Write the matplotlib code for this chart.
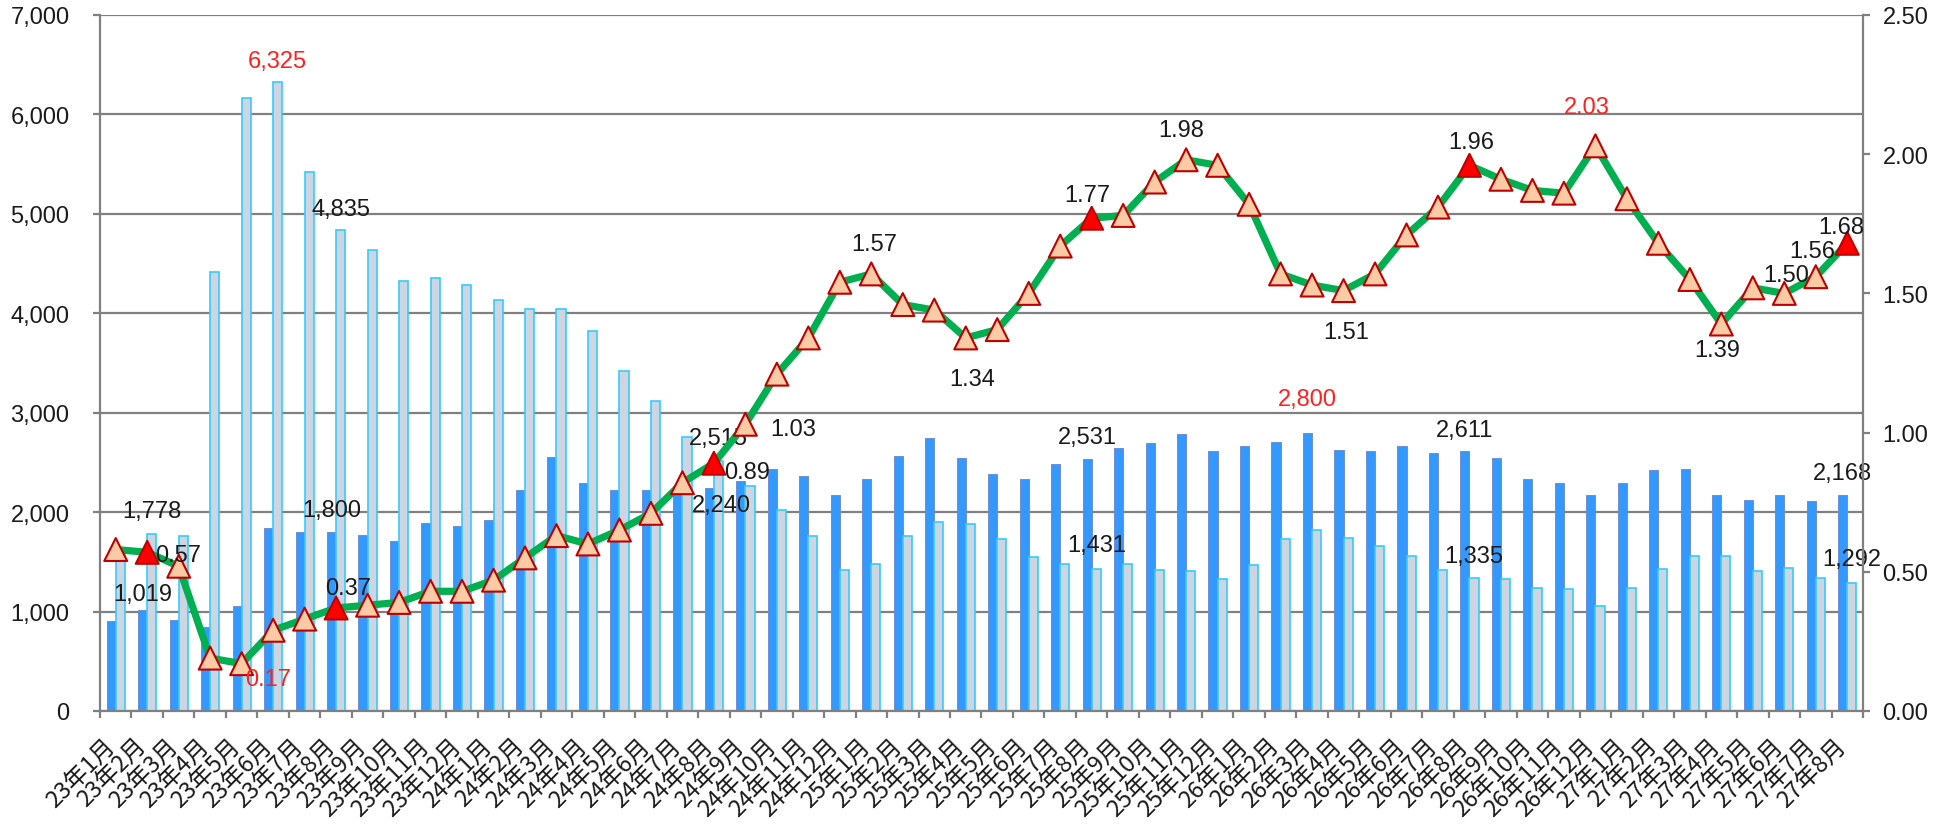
import matplotlib

matplotlib.use("Agg")
import matplotlib.pyplot as plt
import matplotlib.transforms as mtransforms
import numpy as np
from matplotlib.ticker import FuncFormatter

# monthly labels 23年1月 .. 27年8月
months = [f"{y}年{m}月" for y in range(23, 28) for m in range(1, 13)][:56]

# dark blue bars
dark = [
    910, 1019, 920, 840, 1060, 1840, 1800, 1800, 1770, 1710, 1890, 1860,
    1920, 2220, 2550, 2290, 2220, 2220, 2260, 2240, 2310, 2430, 2360, 2170,
    2330, 2560, 2750, 2540, 2380, 2330, 2480, 2531, 2650, 2700, 2790, 2610,
    2670, 2710, 2800, 2620, 2610, 2670, 2590, 2611, 2540, 2330, 2290, 2170,
    2290, 2420, 2430, 2170, 2120, 2170, 2110, 2168,
]
# light (grey-blue) bars
light = [
    1570, 1778, 1760, 4420, 6170, 6325, 5420, 4835, 4640, 4320, 4350, 4280,
    4130, 4040, 4040, 3820, 3420, 3120, 2760, 2515, 2260, 2020, 1760, 1420,
    1480, 1760, 1900, 1880, 1730, 1550, 1480, 1431, 1480, 1420, 1410, 1330,
    1470, 1730, 1820, 1740, 1660, 1560, 1420, 1335, 1330, 1240, 1230, 1060,
    1240, 1430, 1560, 1560, 1410, 1440, 1340, 1292,
]
# ratio line (right axis)
ratio = [
    0.58, 0.57, 0.52, 0.19, 0.17, 0.29, 0.33, 0.37, 0.38, 0.39, 0.43, 0.43,
    0.47, 0.55, 0.63, 0.60, 0.65, 0.71, 0.82, 0.89, 1.03, 1.21, 1.34, 1.54,
    1.57, 1.46, 1.44, 1.34, 1.37, 1.50, 1.67, 1.77, 1.78, 1.90, 1.98, 1.96,
    1.82, 1.57, 1.53, 1.51, 1.57, 1.71, 1.81, 1.96, 1.91, 1.87, 1.86, 2.03,
    1.84, 1.68, 1.55, 1.39, 1.52, 1.50, 1.56, 1.68,
]
highlight = [1, 7, 19, 31, 43, 55]  # filled red markers

# label placement: index -> (dx px, dy px, colour) relative to the mark top / point
dark_labels = {1: (0, -18, "k"), 7: (0, -25, "k"), 19: (12, 14, "k"), 31: (0, -25, "k"),
               38: (0, -36, "red"), 43: (0, -24, "k"), 55: (0, -25, "k")}
light_labels = {1: (0, -26, "k"), 5: (0, -24, "red"), 7: (0, -24, "k"), 19: (0, -25, "k"),
                31: (0, -26, "k"), 43: (0, -25, "k"), 55: (0, -26, "k")}
ratio_labels = {1: (31, 0, "k"), 4: (26, 13, "red"), 7: (12, -22, "k"), 19: (33, 6, "k"),
                20: (48, 2, "k"), 24: (3, -32, "k"), 27: (6, 39, "k"), 31: (-4, -26, "k"),
                34: (-5, -32, "k"), 39: (3, 39, "k"), 43: (2, -26, "k"), 47: (-9, -41, "red"),
                51: (-4, 23, "k"), 53: (2, -21, "k"), 54: (-4, -28, "k"), 55: (-6, -19, "k")}

GRID = "#808080"
TXT = "#1a1a1a"
plt.rcParams["font.family"] = ["Liberation Sans", "Noto Sans CJK JP", "DejaVu Sans"]

W, H = 1948, 829
fig = plt.figure(figsize=(W / 100, H / 100), dpi=100)
ax = fig.add_axes([100 / W, 1 - 712 / H, (1863 - 100) / W, (712 - 16) / H])
ax2 = ax.twinx()

x = np.arange(len(months))
bw = 0.29
ax.bar(x - bw / 2, dark, bw, color="#3399FF", edgecolor="#6E8FD6", linewidth=0.7, zorder=2)
ax.bar(x + bw / 2, light, bw, color="#CDD5E3", edgecolor="#33CCFF", linewidth=1.2, zorder=2)

ax.set_xlim(-0.5, len(months) - 0.5)
ax.set_ylim(0, 7000)
ax.set_yticks(np.arange(0, 7001, 1000))
ax.yaxis.set_major_formatter(FuncFormatter(lambda v, p: f"{int(v):,}"))
ax.yaxis.grid(True, color=GRID, linewidth=1.6)
ax.set_axisbelow(True)
for s in ("top", "right"):
    ax.spines[s].set_visible(False)
for s in ("left", "bottom"):
    ax.spines[s].set_color(GRID)
    ax.spines[s].set_linewidth(1.6)
ax.tick_params(axis="y", length=5, width=1.6, color=GRID, pad=17, labelsize=17, labelcolor=TXT)

# category boundaries as major ticks, labels on minor ticks
ax.set_xticks(np.arange(-0.5, len(months), 1))
ax.set_xticklabels([])
ax.set_xticks(x, minor=True)
ax.set_xticklabels(months, minor=True, rotation=45, ha="right", va="center",
                   rotation_mode="anchor", fontsize=17, family=["Noto Sans CJK JP"], color=TXT)
ax.tick_params(axis="x", which="major", length=4.7, width=1.6, color=GRID)
ax.tick_params(axis="x", which="minor", length=0, pad=22.5)
shift = mtransforms.ScaledTranslation(-4 / 100, 0, fig.dpi_scale_trans)
for lab in ax.get_xticklabels(minor=True):
    lab.set_transform(lab.get_transform() + shift)

ax2.set_ylim(0, 2.5)
ax2.set_yticks(np.arange(0, 2.51, 0.5))
ax2.yaxis.set_major_formatter(FuncFormatter(lambda v, p: f"{v:.2f}"))
for s in ("top", "left", "bottom"):
    ax2.spines[s].set_visible(False)
ax2.spines["right"].set_color(GRID)
ax2.spines["right"].set_linewidth(1.6)
ax2.tick_params(axis="y", length=5, width=1.6, color=GRID, pad=9, labelsize=17, labelcolor=TXT)

ax2.plot(x, ratio, color="#00B050", linewidth=5.2, zorder=3, solid_joinstyle="round")
fills = ["#FF0000" if i in highlight else "#FBCBA5" for i in range(len(x))]
ax2.scatter(x, ratio, marker="^", s=16.5 ** 2, c=fills, edgecolors="#C00000",
            linewidths=1.5, zorder=4)


def put(axis, xv, yv, text, dx, dy, col):
    # dx, dy in pixels (screen, y down); text centred on that point
    axis.annotate(text, xy=(xv, yv), xytext=(dx * 0.72, -(dy + 8.5) * 0.72),
                  textcoords="offset points", ha="center", va="baseline",
                  fontsize=17, color=TXT if col == "k" else "#FF2020", zorder=6,
                  annotation_clip=False)


for i, (dx, dy, c) in dark_labels.items():
    put(ax, x[i] - bw / 2, dark[i], f"{dark[i]:,}", dx, dy, c)
for i, (dx, dy, c) in light_labels.items():
    put(ax, x[i] + bw / 2, light[i], f"{light[i]:,}", dx, dy, c)
for i, (dx, dy, c) in ratio_labels.items():
    put(ax2, x[i], ratio[i], f"{ratio[i]:.2f}", dx, dy, c)

fig.savefig("out.png", dpi=100)
